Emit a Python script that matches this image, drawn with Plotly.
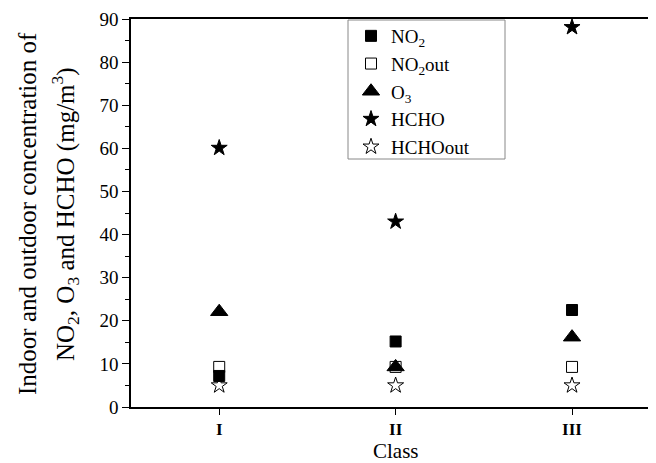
import plotly.graph_objects as go

classes = [1, 2, 3]
class_labels = ["I", "II", "III"]
no2 = [7.2, 15.2, 22.5]
no2_out = [9.3, 9.3, 9.3]
o3 = [22.1, 9.3, 16.2]
hcho = [60.1, 43.0, 88.1]
hcho_out = [5.0, 5.0, 5.0]

FONT = "Liberation Serif"

series = [
    ("NO<sub>2</sub>", no2, "square", 11),
    ("NO<sub>2</sub>out", no2_out, "square-open", 11),
    ("O<sub>3</sub>", o3, "triangle-up", 15),
    ("HCHO", hcho, "star", 12),
    ("HCHOout", hcho_out, "star-open", 12),
]

fig = go.Figure()
for name, vals, sym, sz in series:
    fig.add_trace(go.Scatter(
        x=classes, y=vals, mode="markers", name=name,
        marker=dict(symbol=sym, color="black", size=sz,
                    line=dict(color="black", width=1)),
    ))

# page body has an 8px margin; work in screen pixels and convert
OFF = 8
W, H = 656 - OFF, 463 - OFF
L, T = 131 - OFF, 19 - OFF
BOTTOM = 407 - OFF
B = H - BOTTOM
PW = W - L
PH = BOTTOM - T

def px_x(px):
    return (px - OFF - L) / PW

def px_y(py):
    return (BOTTOM - (py - OFF)) / PH

fig.update_layout(
    width=W, height=H,
    margin=dict(l=L, r=0, t=T, b=B, autoexpand=False),
    paper_bgcolor="white", plot_bgcolor="white",
    font=dict(family=FONT, color="black", size=18),
    legend=dict(
        x=px_x(351), y=px_y(17), xanchor="left", yanchor="top",
        borderwidth=0,
        font=dict(family=FONT, size=19, color="black"),
        bgcolor="rgba(0,0,0,0)", tracegroupgap=0,
    ),
    showlegend=True,
)

# legend frame
fig.add_shape(type="rect", xref="paper", yref="paper",
              x0=px_x(348), x1=px_x(505), y0=px_y(159), y1=px_y(20),
              line=dict(color="#888888", width=1), fillcolor="white",
              layer="below")

fig.add_annotation(text="Indoor and outdoor concentration of",
                   xref="paper", yref="paper", x=px_x(27), y=px_y(214),
                   xanchor="center", yanchor="middle", textangle=-90,
                   showarrow=False, font=dict(family=FONT, size=25))
fig.add_annotation(text="NO<sub>2</sub>, O<sub>3</sub> and HCHO (mg/m<sup>3</sup>)",
                   xref="paper", yref="paper", x=px_x(65), y=px_y(214),
                   xanchor="center", yanchor="middle", textangle=-90,
                   showarrow=False, font=dict(family=FONT, size=25))
fig.add_annotation(text="Class",
                   xref="paper", yref="paper", x=px_x(396), y=px_y(451),
                   xanchor="center", yanchor="middle",
                   showarrow=False, font=dict(family=FONT, size=21))

fig.update_xaxes(
    range=[0.5, 3.476], automargin=False,
    tickmode="array", tickvals=classes,
    ticktext=["<b>%s</b>" % t for t in class_labels],
    ticks="outside", ticklen=6, tickwidth=1.2, tickcolor="black",
    showline=True, linecolor="black", linewidth=1.5, mirror=True,
    showgrid=False, zeroline=False,
    tickfont=dict(family=FONT, size=17),
)
fig.update_yaxes(
    range=[0, 90], dtick=10, automargin=False,
    ticks="outside", ticklen=7, tickwidth=1.2, tickcolor="black",
    minor=dict(dtick=5, ticks="outside", ticklen=4, tickcolor="black", tickwidth=1),
    showline=True, linecolor="black", linewidth=1.5,
    showgrid=False, zeroline=False,
    tickfont=dict(family=FONT, size=19),
)

fig.write_html("out.html")
